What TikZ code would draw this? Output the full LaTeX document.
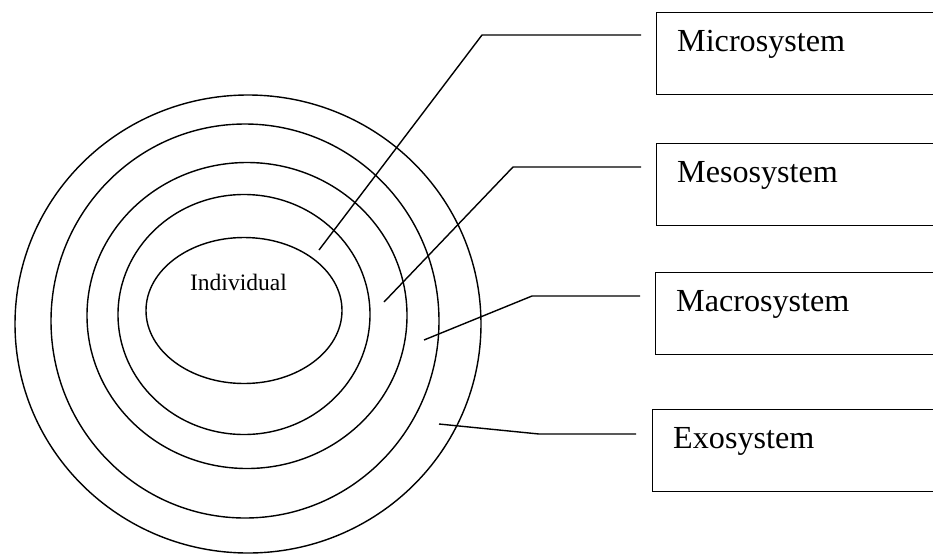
\documentclass[tikz,border=0pt]{standalone}
\usepackage{fontspec}
\setmainfont{Liberation Serif}
\usetikzlibrary{positioning}

\begin{document}
\begin{tikzpicture}[x=0.02cm, y=-0.02cm, line width=0.8pt,
  sysbox/.style={draw, anchor=north west, inner xsep=0.41cm, inner ysep=0pt, text height=0.78cm, text depth=0.86cm, text width=5.2cm, align=left, font=\fontsize{18.3}{22}\selectfont},
  ring/.style={draw}]
\useasboundingbox (0,0) rectangle (933,555);
\clip (0,0) rectangle (933,555);
% nested circles
\draw[ring] (248,324) ellipse [x radius=233, y radius=229];
\draw[ring] (245,321) ellipse [x radius=194, y radius=197];
\draw[ring] (247,315.5) ellipse [x radius=160, y radius=153];
\draw[ring] (244,314.5) ellipse [x radius=126, y radius=120];
\draw[ring] (244,310.5) ellipse [x radius=98, y radius=73];
\node[font=\fontsize{13.4}{16}\selectfont, anchor=base] (indiv) at (238.5,290) {Individual};
% system boxes
\node[sysbox] (micro) at (656,12) {Microsystem};
\node[sysbox] (meso) at (656,143) {Mesosystem};
\node[sysbox] (macro) at (655,272) {Macrosystem};
\node[sysbox] (exo) at (652,409) {Exosystem};
% connectors
\coordinate (microStart) at (641,35);
\coordinate (microBend) at (482,35);
\coordinate (microTip) at (319,250);
\coordinate (mesoStart) at (641,167);
\coordinate (mesoBend) at (513,167);
\coordinate (mesoTip) at (384,302);
\coordinate (macroStart) at (640,296);
\coordinate (macroBend) at (532,296);
\coordinate (macroTip) at (424,340);
\coordinate (exoStart) at (636,434);
\coordinate (exoBend) at (539,434);
\coordinate (exoTip) at (439,424);
\draw (microStart) -- (microBend) -- (microTip);
\draw (mesoStart) -- (mesoBend) -- (mesoTip);
\draw (macroStart) -- (macroBend) -- (macroTip);
\draw (exoStart) -- (exoBend) -- (exoTip);
\end{tikzpicture}
\end{document}
